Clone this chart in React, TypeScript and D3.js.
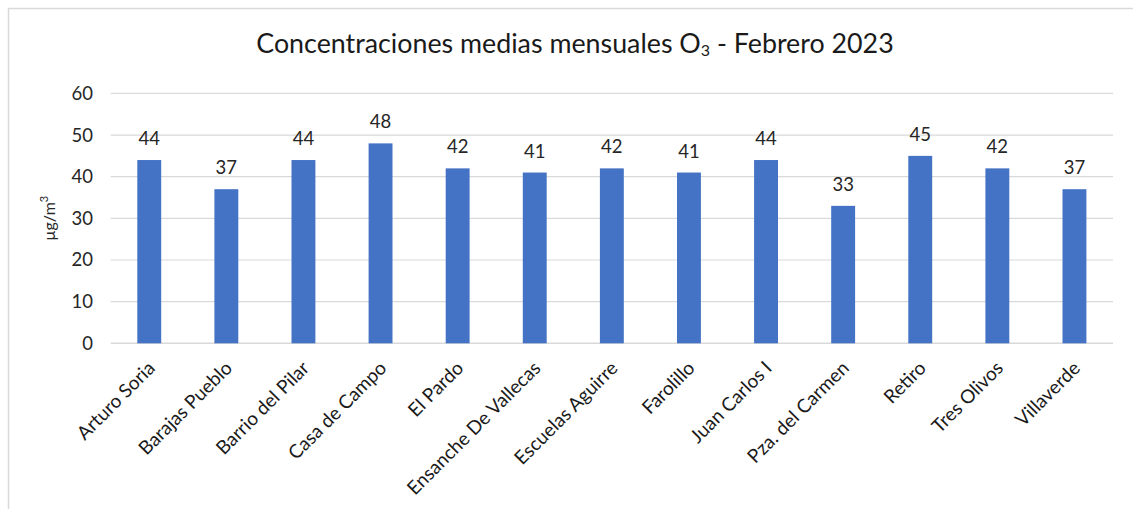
import React from "react";
import * as d3 from "d3";

const categories = [
  "Arturo Soria",
  "Barajas Pueblo",
  "Barrio del Pilar",
  "Casa de Campo",
  "El Pardo",
  "Ensanche De Vallecas",
  "Escuelas Aguirre",
  "Farolillo",
  "Juan Carlos I",
  "Pza. del Carmen",
  "Retiro",
  "Tres Olivos",
  "Villaverde",
];
const values = [44, 37, 44, 48, 42, 41, 42, 41, 44, 33, 45, 42, 37];
const yTicks = [0, 10, 20, 30, 40, 50, 60];

const W = 1133;
const H = 509;
const FONT = "Lato, 'Open Sans', sans-serif";

export default function App() {
  const left = 110.7;
  const right = 1113;
  const top = 93.4;
  const bottom = 343.3;

  const x = d3
    .scaleBand<string>()
    .domain(categories)
    .range([left, right])
    .paddingInner(0.69)
    .paddingOuter(0.345);
  const y = d3.scaleLinear().domain([0, 60]).range([bottom, top]);

  return (
    <svg
      width={W}
      height={H}
      style={{ position: "absolute", left: 0, top: 0, background: "#fff" }}
      fontFamily={FONT}
    >
      <rect x={0} y={0} width={W} height={H} fill="#fff" />
      <rect
        x={8.5}
        y={8.5}
        width={W + 20}
        height={H + 20}
        fill="none"
        stroke="#d9d9d9"
        strokeWidth={1.5}
      />
      <text x={575} y={53} textAnchor="middle" fontSize={26.8} fill="#1a1a1a">
        Concentraciones medias mensuales O
        <tspan fontSize={16} dy={3}>3</tspan>
        <tspan dy={-3}> - Febrero 2023</tspan>
      </text>

      {yTicks.map((t) => (
        <g key={t}>
          <line
            x1={left}
            x2={right}
            y1={y(t)}
            y2={y(t)}
            stroke="#d9d9d9"
            strokeWidth={t === 0 ? 1.5 : 1.2}
          />
          <text
            x={93}
            y={y(t)}
            dy="0.35em"
            textAnchor="end"
            fontSize={18.5}
            fill="#262626"
          >
            {t}
          </text>
        </g>
      ))}

      <text
        transform={`translate(55,${(top + bottom) / 2}) rotate(-90)`}
        textAnchor="middle"
        fontSize={16}
        fill="#262626"
      >
        µg/m<tspan fontSize={11} dy={-7}>3</tspan>
      </text>

      {categories.map((c, i) => {
        const bx = x(c)!;
        const bw = x.bandwidth();
        const cx = bx + bw / 2;
        return (
          <g key={c}>
            <rect
              x={bx}
              y={y(values[i])}
              width={bw}
              height={y(0) - y(values[i])}
              fill="#4472C4"
            />
            <text
              x={cx}
              y={y(values[i]) - 15}
              textAnchor="middle"
              fontSize={18.5}
              fill="#262626"
            >
              {values[i]}
            </text>
            <text
              transform={`translate(${cx + 7},${bottom + 26}) rotate(-45)`}
              textAnchor="end"
              fontSize={19}
              fill="#1a1a1a"
            >
              {c}
            </text>
          </g>
        );
      })}
    </svg>
  );
}
